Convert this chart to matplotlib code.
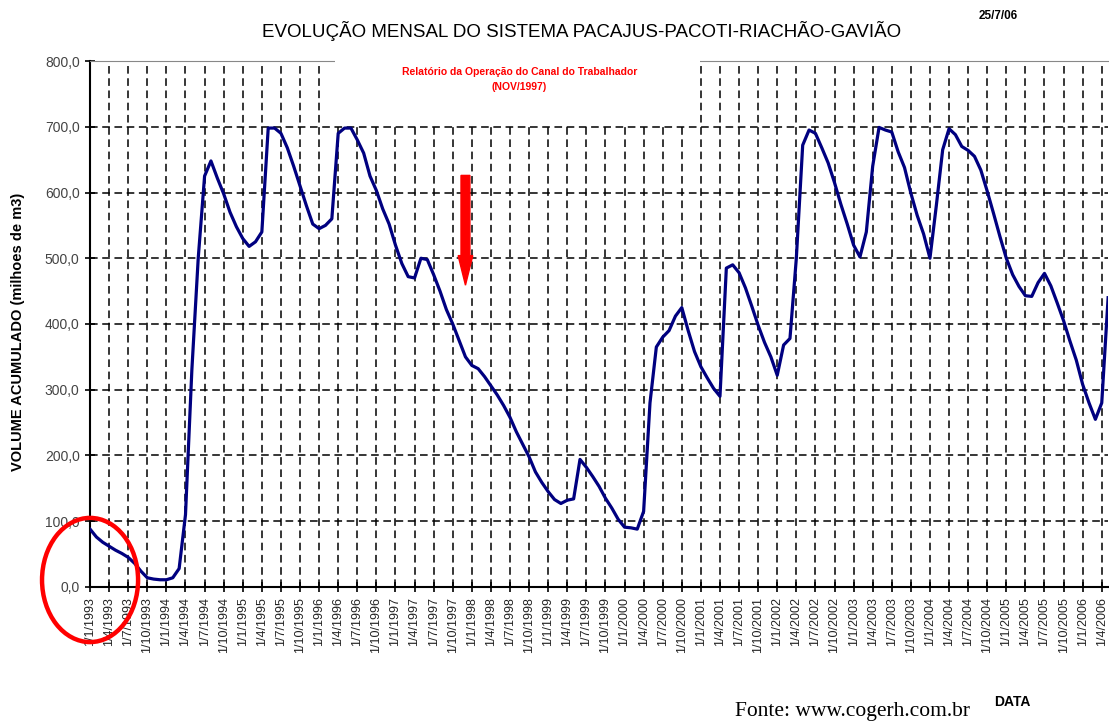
import numpy as np
import matplotlib
matplotlib.use("Agg")
import matplotlib.pyplot as plt
from matplotlib.patches import Ellipse, Rectangle, FancyArrow

plt.rcParams['font.family'] = ['Liberation Sans', 'DejaVu Sans']

# monthly volume (milhoes de m3), jan/1993 .. mai/2006
volume = [
    88, 76, 68, 62, 56, 51, 45, 36, 24, 14, 12, 11,          # 1993
    11, 14, 28, 110, 330, 500, 625, 648, 622, 598, 570, 548,  # 1994
    530, 518, 525, 540, 698, 698, 690, 668, 640, 610, 580, 552,  # 1995
    545, 550, 560, 690, 698, 698, 680, 660, 625, 603, 575, 552,  # 1996
    520, 492, 472, 470, 500, 498, 475, 450, 422, 400, 375, 350,  # 1997
    337, 332, 320, 306, 292, 276, 258, 236, 217, 198, 175, 159,  # 1998
    145, 133, 127, 132, 134, 194, 182, 168, 153, 135, 120, 103,  # 1999
    91, 90, 88, 115, 280, 365, 380, 390, 412, 425, 390, 358,     # 2000
    335, 318, 302, 290, 485, 490, 478, 455, 427, 398, 372, 350,  # 2001
    322, 368, 378, 500, 672, 695, 690, 668, 645, 615, 582, 552,  # 2002
    520, 502, 540, 640, 699, 695, 692, 662, 638, 599, 565, 537,  # 2003
    500, 580, 665, 697, 688, 670, 664, 655, 634, 602, 568, 533,  # 2004
    500, 475, 457, 443, 442, 463, 477, 458, 432, 405, 374, 345,  # 2005
    308, 280, 255, 280, 440,                                     # 2006
]
months = np.arange(len(volume))

tick_months = np.arange(0, 160, 3)
tick_labels = [f"1/{m % 12 + 1}/{1993 + m // 12}" for m in tick_months]
y_ticks = np.arange(0, 801, 100)
y_labels = [f"{v:.1f}".replace(".", ",") for v in y_ticks]

title = "EVOLUÇÃO MENSAL DO SISTEMA PACAJUS-PACOTI-RIACHÃO-GAVIÃO"
note = "Relatório da Operação do Canal do Trabalhador"
note_date = "(NOV/1997)"
arrow_month = 59

fig = plt.figure(figsize=(11.09, 7.22), dpi=100)
ax = fig.add_axes([0.0812, 0.187, 0.918, 0.7285])

ax.plot(months, volume, color='#000080', lw=2.3, zorder=4, solid_joinstyle='round')

ax.set_xlim(0, 160)
ax.set_ylim(0, 800)
ax.set_xticks(tick_months)
ax.set_xticklabels(tick_labels, rotation=90, fontsize=9, color='#222')
ax.set_yticks(y_ticks)
ax.set_yticklabels(y_labels, fontsize=10, color='#444')
ax.tick_params(direction='inout', length=7, width=1.2, pad=4)
ax.grid(True, color='black', ls=(0, (5, 3)), lw=1.1)

ax.spines['right'].set_visible(False)
ax.spines['top'].set_color('#888')
ax.spines['left'].set_linewidth(1.5)
ax.spines['bottom'].set_linewidth(1.5)

# white box behind the note hides grid above 700
ax.add_patch(Rectangle((38.5, 703), 57.3, 110, fc='white', ec='none',
                       zorder=2.6, clip_on=False))
ax.text(67.5, 783, note, color='red', fontsize=7.5, fontweight='bold',
        ha='center', va='center', zorder=5)
ax.text(67.5, 761, note_date, color='red', fontsize=7.5, fontweight='bold',
        ha='center', va='center', zorder=5)

ax.add_patch(FancyArrow(arrow_month, 626, 0, -167, width=1.4, head_width=2.3,
                        head_length=45, length_includes_head=True,
                        color='red', zorder=5))

fig.text(0.524, 0.957, title, ha='center', va='center', fontsize=13.5)
fig.text(0.9, 0.978, "25/7/06", ha='center', va='center', fontsize=8.5, fontweight='bold')
fig.text(0.016, 0.54, "VOLUME ACUMULADO (milhoes de m3)", rotation=90,
         ha='center', va='center', fontsize=10.5, fontweight='bold')
fig.text(0.9125, 0.028, "DATA", ha='center', va='center', fontsize=10, fontweight='bold')
fig.text(0.663, 0.015, "Fonte: www.cogerh.com.br", ha='left', va='center',
         fontsize=15.5, family='Liberation Serif')

fig.patches.append(Ellipse((0.0812, 0.1967), 0.0866, 0.172, transform=fig.transFigure,
                           fill=False, ec='red', lw=3.2, figure=fig))

fig.savefig("out.png", dpi=100)
